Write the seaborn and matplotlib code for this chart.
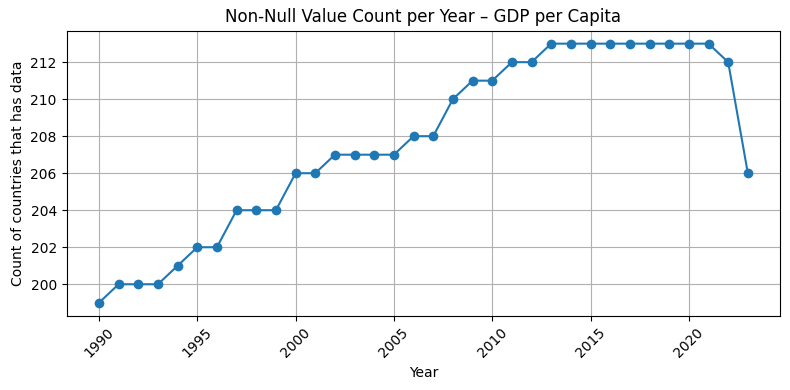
import matplotlib
matplotlib.use("Agg")
import matplotlib.pyplot as plt
import seaborn as sns
import pandas as pd

years = list(range(1990, 2024))
counts = [199, 200, 200, 200, 201, 202, 202, 204, 204, 204,
          206, 206, 207, 207, 207, 207, 208, 208, 210, 211,
          211, 212, 212, 213, 213, 213, 213, 213, 213, 213,
          213, 213, 212, 206]

df = pd.DataFrame({"Year": years, "Count": counts})

fig, ax = plt.subplots(figsize=(7.9, 3.9), dpi=100)
sns.lineplot(data=df, x="Year", y="Count", marker="o", markersize=7,
             markeredgewidth=0, color="#1f77b4", ax=ax)
ax.set_title("Non-Null Value Count per Year \u2013 GDP per Capita")
ax.set_xlabel("Year")
ax.set_ylabel("Count of countries that has data")
ax.grid(True)
ax.set_yticks([200, 202, 204, 206, 208, 210, 212])
plt.setp(ax.get_xticklabels(), rotation=45)
fig.subplots_adjust(left=0.0842, right=0.9877, top=0.9213, bottom=0.1905)
fig.savefig("out.png", dpi=100)
